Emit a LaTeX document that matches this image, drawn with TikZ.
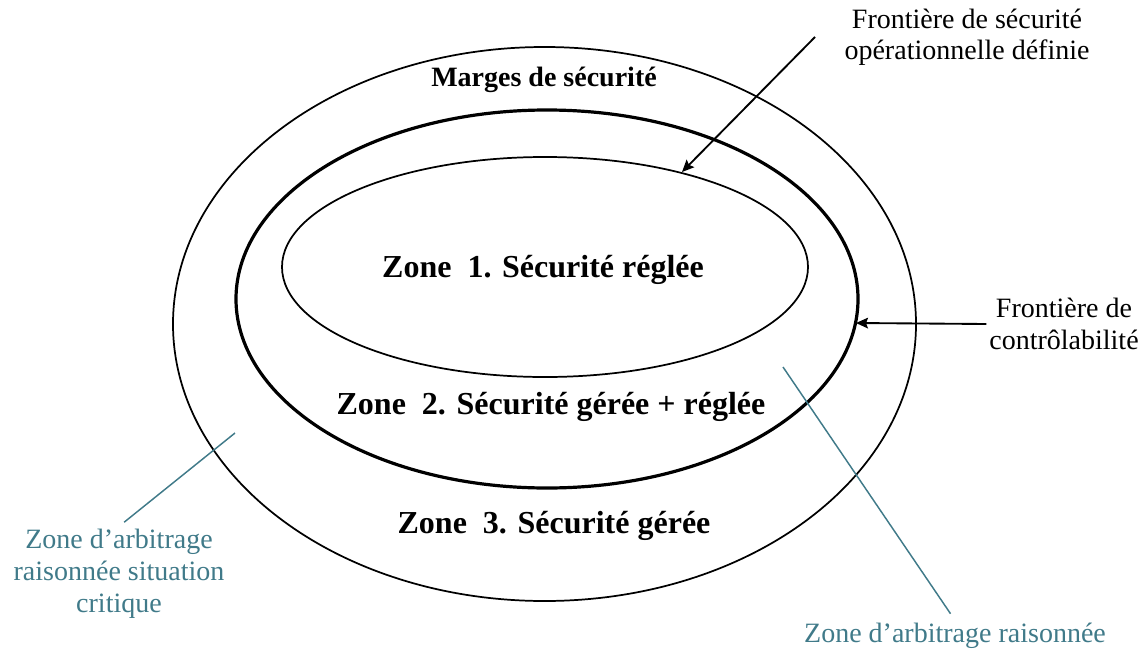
\documentclass[tikz,border=0pt]{standalone}
\usepackage{fontspec}
\setmainfont{Liberation Serif}
\usetikzlibrary{arrows.meta}
\definecolor{arbteal}{RGB}{64,122,137}

\begin{document}
\begin{tikzpicture}[x=0.75pt,y=-0.75pt,>={Stealth[length=9pt,width=8pt,inset=1.5pt]},
  ring/.style={line width=1.3pt},
  zone/.style={font=\fontsize{24}{28}\selectfont\bfseries,inner sep=1pt},
  note/.style={font=\fontsize{21}{23.5}\selectfont,align=center,inner sep=2pt},
  arb note/.style={note,text=arbteal,font=\fontsize{21}{24}\selectfont},
  pointer/.style={->,line width=1.4pt},
  leader/.style={draw=arbteal,line width=1.1pt}]

  \useasboundingbox (0,0) rectangle (1145,653);

  % the three safety zones
  \draw[ring] (544.5,324) ellipse [x radius=371.5, y radius=277];
  \draw[ring,line width=2.4pt] (547,299) ellipse [x radius=311, y radius=189];
  \draw[ring] (545,267) ellipse [x radius=263, y radius=110];

  \node[zone,font=\fontsize{21}{24}\selectfont\bfseries] (marges) at (544,80) {Marges de sécurité};
  \node[zone] (z1) at (543,270) {Zone\ \ 1. Sécurité réglée};
  \node[zone] (z2) at (551,407) {Zone\ \ 2. Sécurité gérée + réglée};
  \node[zone] (z3) at (554,526) {Zone\ \ 3. Sécurité gérée};

  % outside labels
  \node[note] (fsec) at (967,37) {Frontière de sécurité\\opérationnelle définie};
  \node[note] (fctl) at (1064,324) {Frontière de\\contrôlabilité};
  \node[arb note] (raison) at (955,636) {Zone d’arbitrage raisonnée};
  \node[arb note] (critique) at (119,574) {Zone d’arbitrage\\raisonnée situation\\critique};

  \coordinate (fsec start) at (815,37);
  \coordinate (fsec tip) at (682,172);
  \coordinate (fctl tip) at (856,323);
  \coordinate (raison start) at (783,367);
  \coordinate (critique start) at (235,433);

  \draw[pointer] (fsec start) -- (fsec tip);
  \draw[pointer] (fctl.west) -- (fctl tip);
  \draw[leader,shorten >=6pt] (raison start) -- (raison.north);
  \draw[leader,shorten >=5pt] (critique start) -- (critique.north);
\end{tikzpicture}
\end{document}
